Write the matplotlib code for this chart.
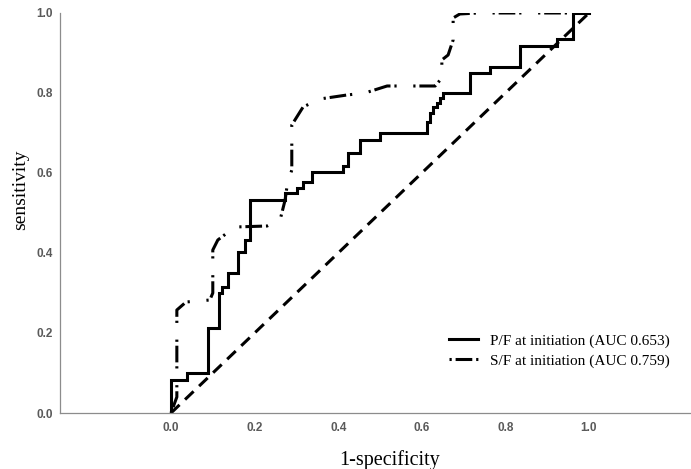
import matplotlib
matplotlib.use("Agg")
import matplotlib.pyplot as plt

# ROC data (1-specificity, sensitivity)
pf_fpr = [0.0, 0.038, 0.089, 0.115, 0.122, 0.136, 0.16, 0.177, 0.189, 0.273,
          0.301, 0.316, 0.337, 0.411, 0.423, 0.452, 0.5, 0.612, 0.62, 0.627,
          0.636, 0.644, 0.651, 0.715, 0.763, 0.835, 0.923, 0.962, 1.0]
pf_tpr = [0.0, 0.083, 0.10, 0.2125, 0.30, 0.315, 0.35, 0.4025, 0.4325, 0.5325,
          0.55, 0.5625, 0.5775, 0.6025, 0.6175, 0.65, 0.6825, 0.70, 0.7275, 0.75,
          0.765, 0.775, 0.7875, 0.80, 0.85, 0.865, 0.9175, 0.935, 1.0]

sf_fpr = [0.0, 0.014, 0.014, 0.036, 0.093, 0.10, 0.10, 0.112, 0.153, 0.23,
          0.261, 0.273, 0.278, 0.289, 0.289, 0.316, 0.356, 0.421, 0.464, 0.517,
          0.632, 0.648, 0.648, 0.663, 0.675, 0.675, 0.691, 0.734, 1.0]
sf_tpr = [0.0, 0.04, 0.2575, 0.2775, 0.2825, 0.30, 0.4075, 0.4325, 0.465, 0.4675,
          0.4825, 0.5325, 0.57, 0.6075, 0.72, 0.765, 0.785, 0.795, 0.80, 0.8175,
          0.8175, 0.8375, 0.8825, 0.895, 0.9325, 0.9875, 0.9975, 1.0, 1.0]

ref_line = [0.0, 1.0]

labels = ["P/F at initiation (AUC 0.653)", "S/F at initiation (AUC 0.759)"]
ticks = [0.0, 0.2, 0.4, 0.6, 0.8, 1.0]

plt.rcParams['lines.scale_dashes'] = False

fig = plt.figure(figsize=(6.91, 4.69), dpi=100)
ax = fig.add_axes([0.0868, 0.1194, 0.9117, 0.8529])

ax.plot(pf_fpr, pf_tpr, color='black', lw=2.2, drawstyle='steps-pre',
        label=labels[0], solid_joinstyle='miter')
ax.plot(sf_fpr, sf_tpr, color='black', lw=2.2, label=labels[1],
        dashes=[1.6, 2.8, 12.0, 2.8, 1.6, 12.0])
ax.plot(ref_line, ref_line, color='black', lw=2.2, dashes=[8.5, 5.5])

ax.set_xlim(-0.2656, 1.2416)
ax.set_ylim(0, 1.0)
ax.set_xticks(ticks)
ax.set_yticks(ticks)
ax.set_xticklabels([f"{t:.1f}" for t in ticks])
ax.set_yticklabels([f"{t:.1f}" for t in ticks])
ax.tick_params(axis='both', length=0, labelsize=8.5, labelcolor='#5a5a5a')
ax.tick_params(axis='x', pad=6.5)
ax.tick_params(axis='y', pad=5)
for lab in ax.get_xticklabels() + ax.get_yticklabels():
    lab.set_fontfamily('Liberation Sans')
    lab.set_fontweight('bold')

for side in ['top', 'right']:
    ax.spines[side].set_visible(False)
for side in ['left', 'bottom']:
    ax.spines[side].set_color('#8c8c8c')
    ax.spines[side].set_linewidth(0.9)

ax.set_xlabel("1-specificity", family='Liberation Serif', fontsize=14.5)
ax.set_ylabel("sensitivity", family='Liberation Serif', fontsize=14)
ax.xaxis.set_label_coords(0.524, -0.1175)
ax.yaxis.set_label_coords(-0.062, 0.5575)
ax.xaxis.label.set_va('center')
ax.yaxis.label.set_va('center')

ax.legend(loc='center left', bbox_to_anchor=(0.605, 0.155), frameon=False,
          borderpad=0, handlelength=1.9, handletextpad=0.8, labelspacing=0.4,
          prop={'family': 'Liberation Serif', 'size': 11})

fig.savefig("out.png", dpi=100)
